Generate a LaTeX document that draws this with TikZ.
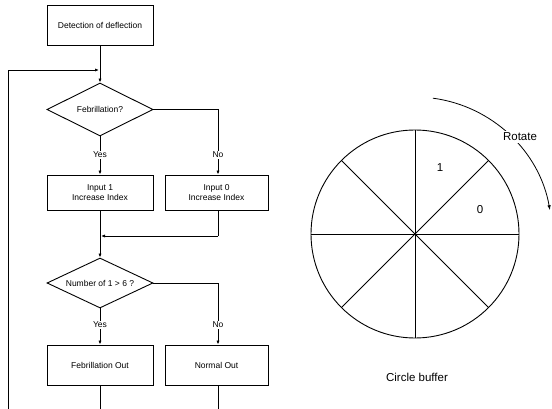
\documentclass[tikz,border=0pt]{standalone}
\usepackage{fontspec}
\setmainfont{Liberation Sans}
\usetikzlibrary{shapes.geometric,arrows.meta,calc}
\begin{document}
\begin{tikzpicture}[x=1pt,y=-1pt,
  every node/.style={font=\fontsize{8.5}{10.5}\selectfont},
  procbox/.style={draw,line width=0.9pt,rectangle,inner sep=0pt,align=center},
  decbox/.style={draw,line width=0.9pt,diamond,aspect=2,inner sep=0pt,minimum width=106pt,minimum height=53pt},
  conn/.style={line width=0.8pt},
  arr/.style={conn,-{Latex[length=4pt,width=3.2pt]}},
  lbl/.style={inner sep=1pt},
  big/.style={font=\fontsize{11.5}{13}\selectfont}
]
\useasboundingbox (0,0) rectangle (552,409);
% flowchart nodes
\node[procbox,minimum width=106pt,minimum height=40pt] (det) at (100,25) {Detection of deflection};
\node[decbox] (d1) at (100,109.5) {Febrillation?};
\node[procbox,minimum width=106pt,minimum height=35pt] (in1) at (100,192.5) {Input 1\\Increase Index};
\node[procbox,minimum width=103pt,minimum height=35pt] (in0) at (216.5,192.5) {Input 0\\Increase Index};
\node[decbox,minimum height=50pt] (d2) at (100,283) {Number of 1 > 6 ?};
\node[procbox,minimum width=106pt,minimum height=40pt] (fo) at (100,365) {Febrillation Out};
\node[procbox,minimum width=103pt,minimum height=40pt] (no) at (216.5,365) {Normal Out};
% helper coordinates
\coordinate (j1) at (100,70);
\coordinate (fbl) at (8,70);
\coordinate (fbb) at (8,409);
\coordinate (r1) at (218,109.5);
\coordinate (j2) at (100,236);
\coordinate (r0) at (218,236);
\coordinate (r2) at (218,283);
\coordinate (b1) at (100,409);
\coordinate (b2) at (218,409);
% labels
\node[lbl,fill=white] (y1) at (100,155) {Yes};
\node[lbl,fill=white] (n1) at (218,155) {No};
\node[lbl,fill=white] (y2) at (100,325) {Yes};
\node[lbl,fill=white] (n2) at (218,325) {No};
% connectors
\draw[arr] (det.south) -- (d1.north);
\draw[arr] (fbb) -- (fbl) -- ($(j1)+(-1,0)$);
\draw[conn] (d1.south) -- (y1.north);
\draw[arr] (y1.south) -- (in1.north);
\draw[conn] (d1.east) -- (r1) -- (n1.north);
\draw[arr] (n1.south) -- (in0.north -| r1);
\draw[conn] (in0.south -| r0) -- (r0);
\draw[arr] (r0) -- ($(j2)+(1,0)$);
\draw[arr] (in1.south) -- (d2.north);
\draw[conn] (d2.south) -- (y2.north);
\draw[arr] (y2.south) -- (fo.north);
\draw[conn] (d2.east) -- (r2) -- (n2.north);
\draw[arr] (n2.south) -- (no.north -| r2);
\draw[conn] (fo.south) -- (b1);
\draw[conn] (no.south -| b2) -- (b2);
% circle buffer
\coordinate (cc) at (415,234);
\draw[line width=0.9pt] (cc) circle[radius=104];
\foreach \a in {0,45,90,135}{
  \draw[line width=0.8pt] ($(cc)+(\a:104pt)$) -- ($(cc)+(\a+180:104pt)$);
}
\node[big] (one) at (440,168) {1};
\node[big] (zero) at (480,210) {0};
\draw[conn,-{Latex[length=5pt,width=3.5pt]}] ($(cc)+(82.5:137pt)$) arc[start angle=82.5,end angle=10,radius=137pt];
\node[big,fill=white,inner sep=2pt] (rot) at (520,137) {Rotate};
\node[big] (cap) at (417,377) {Circle buffer};
\end{tikzpicture}
\end{document}
